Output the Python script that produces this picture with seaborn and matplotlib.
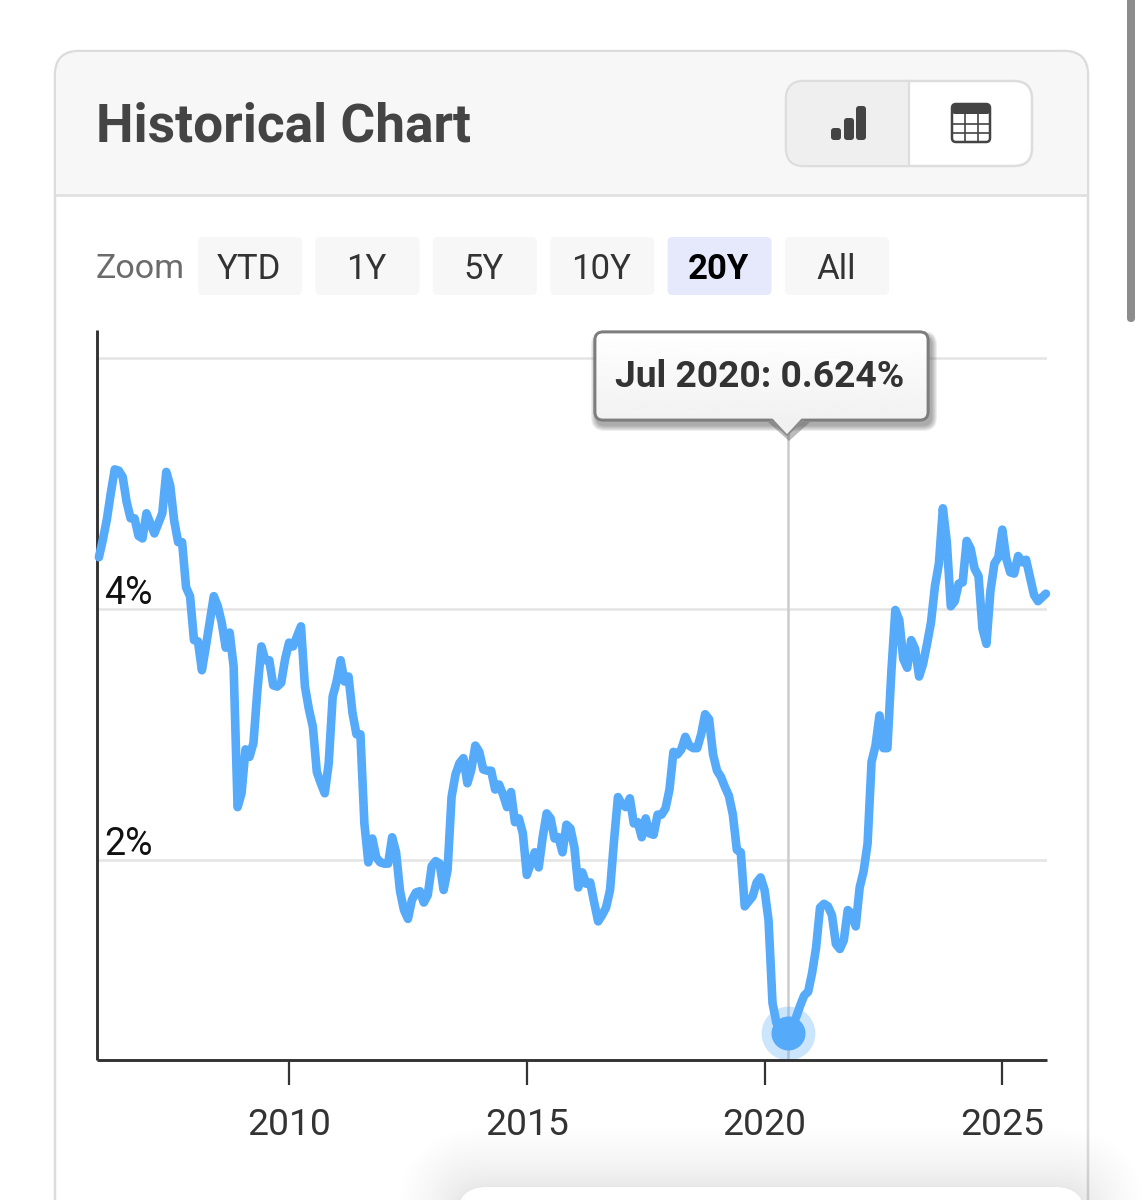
import numpy as np
import pandas as pd
import seaborn as sns
import matplotlib.pyplot as plt
from matplotlib.patches import FancyBboxPatch, Polygon, Rectangle
from matplotlib.transforms import ScaledTranslation

# monthly values, Jan 2006 to Dec 2025
start_year = 2006
values = [
    4.41, 4.55, 4.71, 4.92, 5.11, 5.10, 5.05, 4.85, 4.72, 4.72, 4.58, 4.56,
    4.76, 4.68, 4.60, 4.68, 4.76, 5.09, 4.98, 4.70, 4.53, 4.53, 4.17, 4.10,
    3.75, 3.74, 3.51, 3.70, 3.90, 4.10, 4.02, 3.89, 3.69, 3.81, 3.54, 2.42,
    2.53, 2.88, 2.82, 2.93, 3.35, 3.70, 3.59, 3.59, 3.39, 3.38, 3.41, 3.60,
    3.73, 3.70, 3.78, 3.86, 3.38, 3.20, 3.06, 2.70, 2.61, 2.53, 2.77, 3.30,
    3.42, 3.59, 3.42, 3.46, 3.17, 3.00, 3.00, 2.29, 1.98, 2.17, 2.02, 1.98,
    1.97, 1.97, 2.18, 2.06, 1.75, 1.60, 1.53, 1.68, 1.74, 1.75, 1.66, 1.72,
    1.95, 1.99, 1.97, 1.76, 1.92, 2.50, 2.68, 2.77, 2.81, 2.61, 2.72, 2.91,
    2.86, 2.72, 2.71, 2.71, 2.56, 2.60, 2.52, 2.42, 2.54, 2.30, 2.33, 2.21,
    1.88, 1.97, 2.06, 1.94, 2.18, 2.37, 2.33, 2.17, 2.18, 2.06, 2.28, 2.25,
    2.10, 1.78, 1.90, 1.81, 1.82, 1.66, 1.51, 1.56, 1.62, 1.76, 2.15, 2.50,
    2.44, 2.42, 2.49, 2.29, 2.30, 2.18, 2.33, 2.21, 2.20, 2.36, 2.36, 2.41,
    2.56, 2.86, 2.84, 2.88, 2.98, 2.91, 2.89, 2.89, 3.00, 3.16, 3.12, 2.84,
    2.71, 2.66, 2.58, 2.51, 2.36, 2.08, 2.06, 1.63, 1.67, 1.71, 1.82, 1.86,
    1.76, 1.52, 0.86, 0.70, 0.66, 0.63, 0.624, 0.68, 0.75, 0.84, 0.92, 0.95,
    1.10, 1.30, 1.62, 1.65, 1.63, 1.56, 1.33, 1.29, 1.36, 1.60, 1.57, 1.47,
    1.78, 1.91, 2.13, 2.78, 2.91, 3.15, 2.89, 2.89, 3.50, 3.99, 3.91, 3.60,
    3.53, 3.75, 3.68, 3.46, 3.56, 3.72, 3.89, 4.18, 4.36, 4.80, 4.53, 4.02,
    4.06, 4.20, 4.21, 4.54, 4.48, 4.32, 4.26, 3.84, 3.72, 4.14, 4.36, 4.41,
    4.63, 4.40, 4.29, 4.28, 4.42, 4.37, 4.39, 4.25, 4.11, 4.06, 4.09, 4.12,
]
selected_month = 174  # Jul 2020
x_ticks = [2010, 2015, 2020, 2025]
y_ticks = [2, 4, 6]
y_labels = ['2%', '4%', '']
zoom_labels = ['YTD', '1Y', '5Y', '10Y', '20Y', 'All']
active_zoom = '20Y'
title = 'Historical Chart'
tooltip = 'Jul 2020: 0.624%'

LINE = '#55aafa'
W, H = 1143, 1200

sns.set_theme(style='white')
plt.rcParams['font.family'] = ['Roboto', 'DejaVu Sans']

df = pd.DataFrame({'year': [start_year + i / 12 for i in range(len(values))], 'value': values})

fig = plt.figure(figsize=(W / 100, H / 100), dpi=100, facecolor='white')


def box(ax, x0, y0, x1, y1, r=0, **kw):
    p = FancyBboxPatch((x0 + r, y0 + r), x1 - x0 - 2 * r, y1 - y0 - 2 * r,
                       boxstyle=f'round,pad={r},rounding_size={r}', **kw)
    ax.add_patch(p)
    return p


def pixel_axes(zorder):
    a = fig.add_axes([0, 0, 1, 1], zorder=zorder)
    a.set_xlim(0, W)
    a.set_ylim(H, 0)
    a.axis('off')
    a.patch.set_alpha(0)
    return a


# page furniture behind the chart
bg = pixel_axes(0)
box(bg, 55, 51, 1088, 1300, r=24, fc='white', ec='#dcdcdc', lw=1.8)
hdr = box(bg, 56, 52, 1087, 300, r=24, fc='#f7f7f7', ec='none')
hdr.set_clip_path(Rectangle((0, 0), W, 194, transform=bg.transData))
bg.plot([55, 1088], [195, 195], color='#e0e0e0', lw=2, solid_capstyle='butt')
bg.text(96.5, 122, title, fontsize=38.3, fontweight='bold', color='#444444', va='center_baseline')

# chart / table toggle
box(bg, 786, 81, 1032, 166, r=18, fc='white', ec='#dddddd', lw=1.8)
left = box(bg, 787, 82, 1031, 165, r=18, fc='#efefef', ec='none')
left.set_clip_path(Rectangle((0, 0), 909, H, transform=bg.transData))
bg.plot([909, 909], [81, 166], color='#dddddd', lw=1.6)
for x0, bar_top in [(831, 128), (844, 118), (856, 106)]:
    box(bg, x0, bar_top, x0 + 10, 140, r=3, fc='#444444', ec='none')
box(bg, 952, 104, 990, 142, r=4, fc='white', ec='#444444', lw=1.8)
box(bg, 952, 104, 990, 114, r=3, fc='#444444', ec='none')
for gx in [964.5, 977.5]:
    bg.plot([gx, gx], [114, 142], color='#444444', lw=1.2)
for gy in [123.5, 133]:
    bg.plot([952, 990], [gy, gy], color='#444444', lw=1.2)

# zoom buttons
bg.text(96, 266, 'Zoom', fontsize=24.6, color='#6b6b6b', va='center_baseline')
for i, lab in enumerate(zoom_labels):
    x0 = 198 + i * 117.4
    on = lab == active_zoom
    box(bg, x0, 237, x0 + 104, 295, r=5, fc='#e6e9fb' if on else '#f7f7f7', ec='none')
    bg.text(x0 + 51, 266, lab, fontsize=25, ha='center', va='center_baseline',
            color='black' if on else '#333333', fontweight='bold' if on else 'normal')

# scrollbar and the panel peeking in at the bottom
box(bg, 1127, -20, 1135, 322, r=4, fc='#8c8c8c', ec='none')
for step in range(24, 0, -1):
    grow = step ** 1.5 * 0.5
    box(bg, 457 - grow, 1187 - grow, 1085 + grow, 1300, r=30 + grow, fc='black', ec='none', alpha=0.005)
box(bg, 457, 1187, 1085, 1300, r=30, fc='white', ec='none')

# the chart itself
ax = fig.add_axes([97 / W, 1 - 1060 / H, (1047 - 97) / W, (1060 - 330) / H], zorder=1)
ax.patch.set_alpha(0)
ax.set_axisbelow(True)
ax.grid(axis='y', color='#e4e4e4', lw=1.8)
ax.grid(axis='x', visible=False)

sel_x = df['year'][selected_month]
sel_y = df['value'][selected_month]
ax.axvline(sel_x, ymax=(1060 - 420) / (1060 - 330), color='#cccccc', lw=1.8, zorder=1)
sns.lineplot(data=df, x='year', y='value', color=LINE, lw=6.2, ax=ax, zorder=3, clip_on=False)
ax.scatter([sel_x], [sel_y], s=1500, color=LINE, alpha=0.3, linewidths=0, zorder=2)
ax.scatter([sel_x], [sel_y], s=600, color=LINE, linewidths=0, zorder=4)

ax.set_xlim(2005.96, 2025.94)
ax.set_ylim(0.406, 6.22)
ax.set_xlabel('')
ax.set_ylabel('')
ax.set_xticks(x_ticks)
ax.set_yticks(y_ticks, labels=y_labels)
ax.tick_params(axis='x', length=18, width=1.6, color='#333333', pad=16, labelsize=26.8, labelcolor='#333333', bottom=True)
ax.tick_params(axis='y', length=0, pad=-5, labelsize=27, labelcolor='#111111')
up = ScaledTranslation(0, 4.5 / 100, fig.dpi_scale_trans)
for lab in ax.get_yticklabels():
    lab.set_ha('left')
    lab.set_va('baseline')
    lab.set_transform(lab.get_transform() + up)
sns.despine(ax=ax)
for side in ['left', 'bottom']:
    ax.spines[side].set_color('#333333')
    ax.spines[side].set_linewidth(2.1)
    ax.spines[side].set_capstyle('butt')

# tooltip on top of everything
top = pixel_axes(2)
for k in range(6, 0, -1):
    box(top, 597 - k, 337 - k, 931 + k, 425 + k, r=8 + k, fc='#444444', ec='none', alpha=0.09)
top.add_patch(Polygon([[768, 422], [789, 441], [810, 422]], fc='#555555', ec='none', alpha=0.4))
tip = box(top, 595, 332, 928, 420, r=8, fc='white', ec='#7d7d7d', lw=2)
shade = np.linspace(1.0, 0.945, 64).reshape(-1, 1)
img = top.imshow(shade, extent=(595, 928, 420, 332), cmap='gray', vmin=0, vmax=1, aspect='auto', zorder=2.5)
img.set_clip_path(tip)
top.set_xlim(0, W)
top.set_ylim(H, 0)
top.add_patch(FancyBboxPatch((603, 340), 317, 72, boxstyle='round,pad=8,rounding_size=8', fc='none', ec='#7d7d7d', lw=2, zorder=3))
top.add_patch(Polygon([[771, 417], [787, 434], [803, 417]], fc='#f1f1f1', ec='none', zorder=3.2))
top.plot([771, 787, 803], [420, 435, 420], color='#8c8c8c', lw=1.4, zorder=3.1)
top.text(759.5, 373, tooltip, fontsize=26.8, fontweight='bold', color='#333333', ha='center', va='center_baseline', zorder=4)

fig.savefig('out.png', dpi=100)
